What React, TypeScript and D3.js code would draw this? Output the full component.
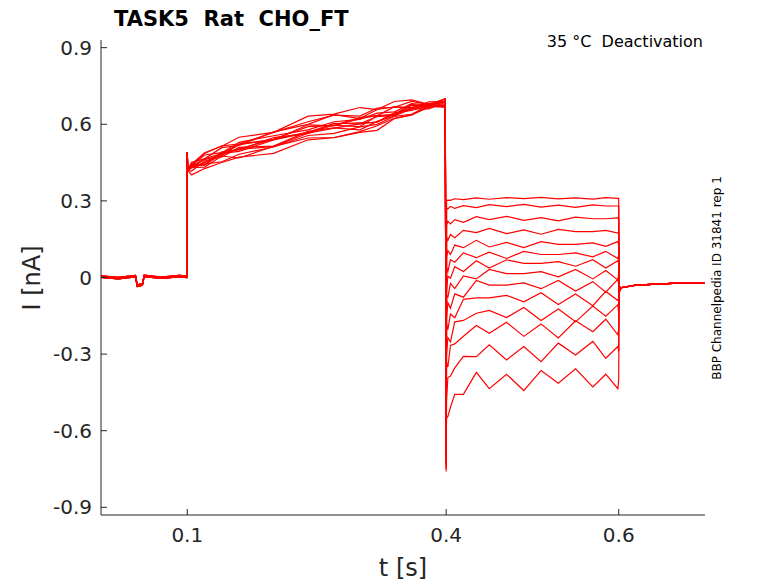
import React from "react";
import * as d3 from "d3";

const yTicks = [0.9, 0.6, 0.3, 0, -0.3, -0.6, -0.9];
const xTicks = [0.1, 0.4, 0.6];

// baseline 0..0.1 s
const baseT = [0, 0.02, 0.04, 0.042, 0.048, 0.05, 0.07, 0.09, 0.0995];
const baseV = [0, -0.005, 0.002, -0.035, -0.03, 0.003, -0.004, 0.002, 0];

// activation step 0.1..0.4 s (shared shape) with per-sweep offsets
const actT = [0.1, 0.1005, 0.105, 0.12, 0.14, 0.16, 0.2, 0.24, 0.27, 0.3, 0.32, 0.34, 0.36, 0.38, 0.399];
const actV = [0.49, 0.42, 0.43, 0.45, 0.48, 0.5, 0.53, 0.57, 0.59, 0.6, 0.62, 0.64, 0.66, 0.67, 0.68];
const actOff = [0.05, 0.03, 0.01, 0.0, -0.01, -0.03, 0.02, -0.005, 0.04, -0.02, 0.005, -0.04, 0.0, 0.015];
const actWig = [0, 0.01, -0.01, 0.015, -0.005, 0.01, -0.015, 0.02, 0.0, 0.03, -0.01, 0.02, 0.01, -0.02, 0];

// deactivation tails 0.4..0.6 s
const tailT = [0.4005, 0.402, 0.405, 0.41, 0.42, 0.435, 0.45, 0.47, 0.49, 0.51, 0.53, 0.55, 0.57, 0.585, 0.599];
const tailStart = [0.3, 0.27, 0.21, 0.15, 0.09, 0.03, -0.03, -0.09, -0.15, -0.21, -0.28, -0.35, -0.45, -0.58];
const tailLevel = [0.31, 0.28, 0.23, 0.18, 0.13, 0.09, 0.055, 0.015, -0.03, -0.08, -0.14, -0.2, -0.29, -0.4];
const tailWig = [0, 0.004, -0.006, 0.008, -0.01, 0.006, -0.012, 0.01, -0.004, 0.012, -0.008, 0.006, -0.01, 0.008, 0];

// after 0.6 s
const postT = [0.6005, 0.603, 0.62, 0.65, 0.68, 0.7];
const postV = [-0.06, -0.04, -0.03, -0.025, -0.02, -0.02];

const W = 778, H = 583;
const x = d3.scaleLinear().domain([0, 0.7]).range([101, 705]);
const y = d3.scaleLinear().domain([-0.93, 0.93]).range([515, 40]);

export default function App() {
  const line = d3.line<[number, number]>().x(d => x(d[0])).y(d => y(d[1]));
  const sweeps = tailLevel.map((lvl, i) => {
    const pts: [number, number][] = [];
    baseT.forEach((t, k) => pts.push([t, baseV[k] + (i % 3) * 0.003]));
    actT.forEach((t, k) => pts.push([t, actV[k] + (k > 1 ? actOff[i] * Math.sin((k / actT.length) * Math.PI) + actWig[(k + i) % actWig.length] * 0.6 : 0)]));
    pts.push([0.4, -0.76 + i * 0.01]);
    tailT.forEach((t, k) => {
      const f = Math.min(1, k / 5);
      const base = tailStart[i] + (lvl - tailStart[i]) * f;
      pts.push([t, base + tailWig[(k + i) % tailWig.length] * (0.3 + i * 0.25)]);
    });
    pts.push([0.6, lvl]);
    postT.forEach((t, k) => pts.push([t, postV[k] + (k === 0 ? i * 0.002 : 0)]));
    return pts;
  });
  return (
    <svg width={W} height={H} style={{ position: "absolute", left: 0, top: 0, fontFamily: "DejaVu Sans" }}>
      <rect width={W} height={H} fill="#fff" />
      {sweeps.map((p, i) => (
        <path key={i} d={line(p) || ""} fill="none" stroke="#ff0000" strokeWidth={1.2} />
      ))}
      <line x1={101} x2={101} y1={40} y2={515} stroke="#262626" />
      <line x1={101} x2={705} y1={515} y2={515} stroke="#262626" />
      {yTicks.map(t => (
        <g key={t}>
          <line x1={101} x2={107} y1={y(t)} y2={y(t)} stroke="#262626" />
          <text x={92} y={y(t) + 7} textAnchor="end" fontSize={20} fill="#262626">{t === 0 ? "0" : t}</text>
        </g>
      ))}
      {xTicks.map(t => (
        <g key={t}>
          <line x1={x(t)} x2={x(t)} y1={515} y2={509} stroke="#262626" />
          <text x={x(t)} y={542} textAnchor="middle" fontSize={20} fill="#262626">{t}</text>
        </g>
      ))}
      <text x={403} y={576} textAnchor="middle" fontSize={24} fill="#262626">t [s]</text>
      <text transform="translate(40,278) rotate(-90)" textAnchor="middle" fontSize={24} fill="#262626">I [nA]</text>
      <text x={114} y={26} fontSize={21} fontWeight="bold" style={{ whiteSpace: "pre" }}>{"TASK5  Rat  CHO_FT"}</text>
      <text x={703} y={47} textAnchor="end" fontSize={16} style={{ whiteSpace: "pre" }}>{"35 °C  Deactivation"}</text>
      <text transform="translate(721,278) rotate(-90)" textAnchor="middle" fontSize={12}>BBP Channelpedia ID 31841 rep 1</text>
    </svg>
  );
}
